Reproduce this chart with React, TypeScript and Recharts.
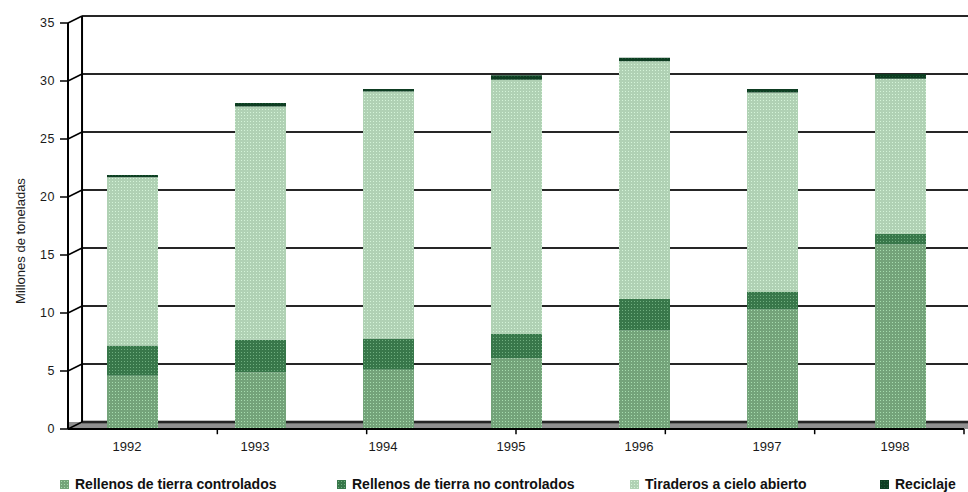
import React from "react";
import { BarChart, Bar, XAxis, YAxis, ReferenceLine, ReferenceArea } from "recharts";

// Residuos sólidos por tipo de disposición, millones de toneladas
const years = ["1992", "1993", "1994", "1995", "1996", "1997", "1998"];
const controlados = [4.6, 4.9, 5.1, 6.1, 8.5, 10.3, 15.9];
const noControlados = [2.6, 2.8, 2.7, 2.1, 2.7, 1.5, 0.9];
const tiraderos = [14.5, 20.1, 21.3, 21.9, 20.5, 17.2, 13.4];
const reciclaje = [0.2, 0.3, 0.2, 0.4, 0.3, 0.3, 0.4];
const yTicks = [0, 5, 10, 15, 20, 25, 30, 35];

const series = [
  { key: "controlados", name: "Rellenos de tierra controlados", base: "#74a37a", dot: "#a6dcae" },
  { key: "noControlados", name: "Rellenos de tierra no controlados", base: "#38774a", dot: "#6fae7f" },
  { key: "tiraderos", name: "Tiraderos a cielo abierto", base: "#b0d1b4", dot: "#d4f4d8" },
  { key: "reciclaje", name: "Reciclaje", base: "#0e3d22", dot: "#1c5a34" },
];

const data = years.map((year, i) => ({
  year,
  controlados: controlados[i],
  noControlados: noControlados[i],
  tiraderos: tiraderos[i],
  reciclaje: reciclaje[i],
}));

// pseudo-3D wall offsets, in frame-axis units
const DEPTH_X = 0.094;
const DEPTH_Y = 0.6;
const FRAME_END = 7.03;
const FONT = "'Liberation Sans', Arial, sans-serif";
const INK = "#262626";
// keep the walls behind the bars
const BACK = -10;

const App: React.FC = () => {
  return (
    <div style={{ position: "fixed", left: 0, top: 0, width: 968, height: 492, background: "#fff", fontFamily: FONT }}>
      <BarChart width={968} height={492} data={data} margin={{ top: 23, right: 4, left: 0, bottom: 33 }}>
        <defs>
          {series.map((s) => (
            <pattern key={s.key} id={`dots-${s.key}`} width="3" height="3" patternUnits="userSpaceOnUse">
              <rect width="3" height="3" fill={s.base} />
              <rect x="1" y="1" width="1" height="1" fill={s.dot} />
            </pattern>
          ))}
        </defs>
        <XAxis
          dataKey="year"
          axisLine={{ stroke: "#000", strokeWidth: 2 }}
          tickLine={false}
          tickMargin={7}
          height={30}
          tick={{ fontSize: 13, fill: "#1a1a1a", fontFamily: FONT, dx: -5 }}
        />
        <XAxis xAxisId="frame" type="number" domain={[0, 7]} allowDataOverflow hide />
        <YAxis
          domain={[0, 35]}
          ticks={yTicks}
          width={68}
          tickSize={8}
          tickMargin={5}
          axisLine={{ stroke: "#000", strokeWidth: 2 }}
          tickLine={{ stroke: "#000", strokeWidth: 1.5 }}
          tick={{ fontSize: 12.5, fill: "#1a1a1a", fontFamily: FONT, letterSpacing: 0.5 }}
          label={{
            value: "Millones de toneladas",
            angle: -90,
            position: "insideLeft",
            offset: 20,
            dy: 15,
            style: { textAnchor: "middle", fontSize: 13, fill: "#1a1a1a", fontFamily: FONT },
          }}
        />

        {/* floor */}
        <ReferenceArea zIndex={BACK} xAxisId="frame" x1={0} x2={FRAME_END} y1={0} y2={DEPTH_Y} fill="#909090" fillOpacity={1} stroke="none" ifOverflow="visible" />
        <ReferenceLine zIndex={BACK} xAxisId="frame" segment={[{ x: DEPTH_X, y: DEPTH_Y }, { x: FRAME_END, y: DEPTH_Y }]} stroke="#000" strokeWidth={2.5} ifOverflow="visible" />

        {/* back wall gridlines and side wall diagonals */}
        {yTicks.map((v) => (
          <ReferenceLine
            key={`back-${v}`}
            zIndex={BACK}
            xAxisId="frame"
            segment={[{ x: DEPTH_X, y: v + DEPTH_Y }, { x: FRAME_END, y: v + DEPTH_Y }]}
            stroke={INK}
            strokeWidth={2}
            ifOverflow="visible"
          />
        ))}
        {yTicks.map((v) => (
          <ReferenceLine
            key={`side-${v}`}
            zIndex={BACK}
            xAxisId="frame"
            segment={[{ x: 0, y: v }, { x: DEPTH_X, y: v + DEPTH_Y }]}
            stroke="#000"
            strokeWidth={1.5}
            ifOverflow="visible"
          />
        ))}
        <ReferenceLine zIndex={BACK} xAxisId="frame" segment={[{ x: DEPTH_X, y: DEPTH_Y }, { x: DEPTH_X, y: 35 + DEPTH_Y }]} stroke="#000" strokeWidth={2} ifOverflow="visible" />

        {/* category separators under the front axis */}
        {[1, 2, 3, 4, 5, 6].map((k) => (
          <ReferenceLine key={`tick-${k}`} xAxisId="frame" segment={[{ x: k, y: 0 }, { x: k, y: -0.45 }]} stroke="#000" strokeWidth={1.5} ifOverflow="visible" />
        ))}

        {series.map((s) => (
          <Bar key={s.key} dataKey={s.key} name={s.name} stackId="a" barSize={51} fill={`url(#dots-${s.key})`} isAnimationActive={false} />
        ))}
      </BarChart>

      {/* legend */}
      {series.map((s, i) => {
        const lefts = [60, 337, 630, 880];
        return (
          <div
            key={s.key}
            style={{ position: "absolute", left: lefts[i], top: 476, display: "flex", alignItems: "center", whiteSpace: "nowrap" }}
          >
            <svg width={9} height={9} style={{ marginRight: 6 }}>
              <rect width={9} height={9} fill={`url(#dots-${s.key})`} />
            </svg>
            <span style={{ fontSize: 14, fontWeight: "bold", color: "#111", lineHeight: "16px" }}>{s.name}</span>
          </div>
        );
      })}
    </div>
  );
};

export default App;
